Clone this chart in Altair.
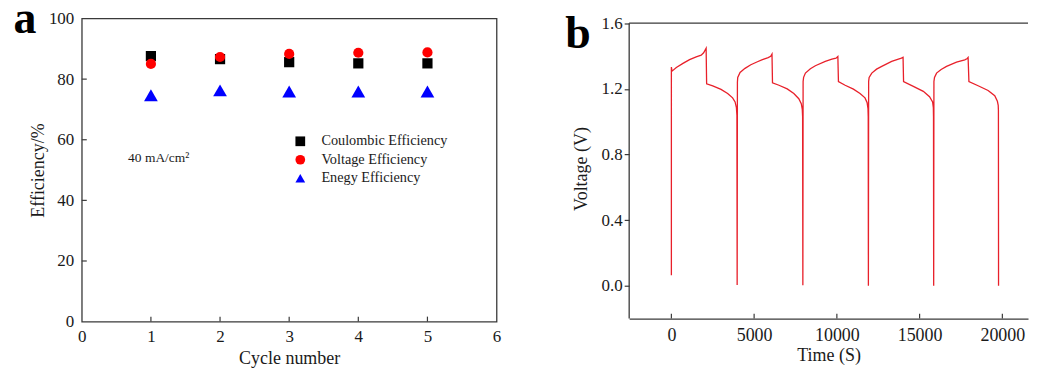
import altair as alt
import pandas as pd

# ---------------- data: panel a ----------------
cycles = [1, 2, 3, 4, 5]
coulombic = [87.6, 86.6, 85.6, 85.2, 85.2]
voltage_eff = [85.0, 87.3, 88.3, 88.7, 88.8]
energy_eff = [74.7, 76.3, 75.9, 75.9, 75.9]
series_names = ["Coulombic Efficiency", "Voltage Efficiency", "Enegy Efficiency"]
x_ticks_a = [0, 1, 2, 3, 4, 5, 6]
y_ticks_a = [0, 20, 40, 60, 80, 100]
annot_text = "40 mA/cm\u00b2"
annot_pos = [0.67, 52.5]

# ---------------- data: panel b ----------------
time_s = [
    0, 0, 40, 300, 700, 1100, 1500, 1800, 1950, 2100, 2130, 2500, 3000, 3400, 3700, 3850, 3930, 3960, 3975,
    3990, 4010, 4150, 4450, 4800, 5200, 5500, 5850, 6000, 6080, 6110, 6500, 7000, 7400, 7700, 7850, 7910, 7930, 7945,
    7960, 7990, 8100, 8400, 8700, 9300, 9700, 9950, 10060, 10095, 10500, 11000, 11400, 11700, 11830, 11880, 11895, 11905,
    11920, 11950, 12110, 12400, 12712, 13313, 13717, 13900, 14000, 14030, 14620, 15223, 15600, 15785, 15830, 15840, 15850,
    15865, 15900, 16025, 16300, 16627, 17229, 17731, 17880, 17930, 17980, 18535, 19138, 19540, 19700, 19750, 19762, 19770,
]
volt_v = [
    0.065, 1.333, 1.308, 1.330, 1.355, 1.378, 1.395, 1.405, 1.42, 1.448, 1.231, 1.218, 1.197, 1.172, 1.145, 1.12, 1.085, 1.04, 0.005,
    1.24, 1.27, 1.300, 1.325, 1.347, 1.365, 1.378, 1.390, 1.398, 1.412, 1.237, 1.222, 1.200, 1.172, 1.140, 1.11, 1.075, 1.03, 0.003,
    1.245, 1.27, 1.296, 1.322, 1.341, 1.367, 1.381, 1.387, 1.397, 1.244, 1.222, 1.198, 1.172, 1.145, 1.115, 1.08, 1.03, 0.0,
    1.245, 1.27, 1.296, 1.320, 1.337, 1.367, 1.381, 1.387, 1.392, 1.244, 1.215, 1.185, 1.152, 1.12, 1.085, 1.03, 0.0,
    1.245, 1.27, 1.296, 1.318, 1.337, 1.363, 1.377, 1.385, 1.391, 1.245, 1.219, 1.19, 1.158, 1.124, 1.10, 1.07, 0.0,
]
x_ticks_b = [0, 5000, 10000, 15000, 20000]
y_ticks_b = [0.0, 0.4, 0.8, 1.2, 1.6]

# ---------------- style ----------------
FONT = "Liberation Serif"
INK = "#1a1a1a"
FRAME = "#3a3a3a"
W_A, H_A = 416, 304
W_B, H_B = 400, 301

# ---------------- panel a ----------------
rows = []
for name, vals in zip(series_names, [coulombic, voltage_eff, energy_eff]):
    for c, v in zip(cycles, vals):
        rows.append({"cycle": c, "eff": v, "series": name})
df_a = pd.DataFrame(rows)

sx_a = alt.Scale(domain=[0, 6], nice=False, zero=False)
sy_a = alt.Scale(domain=[0, 100], nice=False)
ax_xa = alt.Axis(values=x_ticks_a, ticks=False, domain=False, grid=False, labelFont=FONT,
                 labelFontSize=17, labelColor=INK, labelPadding=7, labelFlush=False,
                 title="Cycle number", titleFont=FONT, titleFontSize=18, titleFontWeight="normal",
                 titleColor=INK, titlePadding=5)
ax_ya = alt.Axis(values=y_ticks_a, ticks=False, domain=False, grid=False, labelFont=FONT,
                 labelFontSize=17, labelColor=INK, labelPadding=8, labelFlush=False,
                 title="Efficiency/%", titleFont=FONT, titleFontSize=18, titleFontWeight="normal",
                 titleColor=INK, titlePadding=1)
X_A = alt.X("cycle:Q", scale=sx_a, axis=ax_xa)
Y_A = alt.Y("eff:Q", scale=sy_a, axis=ax_ya)

leg = dict(title=None, orient="none", legendX=212, legendY=116, padding=0, symbolSize=95,
           labelFont=FONT, labelFontSize=14.3, labelColor=INK, labelOffset=14, rowPadding=3.5,
           symbolStrokeWidth=0)

points = alt.Chart(df_a).mark_point(filled=True, opacity=1, strokeWidth=0).encode(
    x=X_A, y=Y_A,
    color=alt.Color("series:N", scale=alt.Scale(domain=series_names, range=["#000000", "#ff0000", "#0000ff"]),
                    legend=alt.Legend(**leg)),
    shape=alt.Shape("series:N", scale=alt.Scale(domain=series_names, range=["square", "circle", "triangle-up"]),
                    legend=alt.Legend(**leg)),
    size=alt.condition(alt.datum.series == "Enegy Efficiency", alt.value(190), alt.value(105)),
)

ticks_xa = alt.Chart(pd.DataFrame({"cycle": x_ticks_a[1:-1]})).mark_rule(color=FRAME, strokeWidth=1.2).encode(
    x=X_A, y=alt.value(H_A), y2=alt.value(H_A - 5))
ticks_ya = alt.Chart(pd.DataFrame({"eff": y_ticks_a[1:-1]})).mark_rule(color=FRAME, strokeWidth=1.2).encode(
    y=Y_A, x=alt.value(0), x2=alt.value(5))

annot = alt.Chart(pd.DataFrame({"cycle": [annot_pos[0]], "eff": [annot_pos[1]], "t": [annot_text]})).mark_text(
    font=FONT, fontSize=13.5, color=INK, align="left", baseline="alphabetic").encode(x=X_A, y=Y_A, text="t:N")

letter_a = alt.Chart(pd.DataFrame({"t": ["a"]})).mark_text(
    font=FONT, fontSize=46, fontWeight="bold", color="#000", align="left", baseline="alphabetic").encode(
    x=alt.value(-68.5), y=alt.value(15), text="t:N")

panel_a = alt.layer(ticks_xa, ticks_ya, points, annot, letter_a).properties(
    width=W_A, height=H_A,
    view=alt.ViewBackground(stroke=FRAME, strokeWidth=1.3, fill="white"))

# ---------------- panel b ----------------
df_b = pd.DataFrame({"time": time_s, "volt": volt_v, "order": list(range(len(time_s)))})
sx_b = alt.Scale(domain=[-2550, 21550], nice=False, zero=False)
sy_b = alt.Scale(domain=[-0.2, 1.6286], nice=False, zero=False)
ax_xb = alt.Axis(values=x_ticks_b, format="d", ticks=False, domain=True, domainColor=FRAME, domainWidth=1.3,
                 grid=False, labelFont=FONT, labelFontSize=18, labelColor=INK, labelPadding=7.5,
                 labelFlush=False, title="Time (S)", titleFont=FONT, titleFontSize=18,
                 titleFontWeight="normal", titleColor=INK, titlePadding=3)
ax_yb = alt.Axis(values=y_ticks_b, format=".1f", ticks=True, tickSize=5, tickColor=FRAME, tickWidth=1.2,
                 domain=False, grid=False, labelFont=FONT, labelFontSize=17, labelColor=INK, labelPadding=2,
                 labelFlush=False, title="Voltage (V)", titleFont=FONT, titleFontSize=18,
                 titleFontWeight="normal", titleColor=INK, titlePadding=11)
X_B = alt.X("time:Q", scale=sx_b, axis=ax_xb)
Y_B = alt.Y("volt:Q", scale=sy_b, axis=ax_yb)

line = alt.Chart(df_b).mark_line(color="#e8202a", strokeWidth=1.3, interpolate="linear").encode(
    x=X_B, y=Y_B, order="order:Q")

ticks_xb = alt.Chart(pd.DataFrame({"time": x_ticks_b})).mark_rule(color=FRAME, strokeWidth=1.2).encode(
    x=X_B, y=alt.value(H_B), y2=alt.value(H_B - 5))

frame_top = alt.Chart(pd.DataFrame({"volt": [y_ticks_b[-1]]})).mark_rule(color=FRAME, strokeWidth=1.3).encode(
    y=Y_B, x=alt.value(0), x2=alt.value(W_B))
frame_left = alt.Chart(pd.DataFrame({"volt": [y_ticks_b[-1]], "v2": [-0.2]})).mark_rule(
    color=FRAME, strokeWidth=1.3).encode(y=Y_B, y2="v2:Q", x=alt.value(0))

letter_b = alt.Chart(pd.DataFrame({"t": ["b"]})).mark_text(
    font=FONT, fontSize=46, fontWeight="bold", color="#000", align="left", baseline="alphabetic").encode(
    x=alt.value(-64), y=alt.value(29.7), text="t:N")

panel_b = alt.layer(line, ticks_xb, frame_top, frame_left, letter_b).properties(
    width=W_B, height=H_B,
    view=alt.ViewBackground(stroke="transparent", fill="white"))

chart = alt.hconcat(panel_a, panel_b, spacing=133, bounds="flush").properties(
    padding={"left": 4, "top": -13, "right": 0, "bottom": 4},
    background="white",
).configure_view(stroke="transparent")

chart.save("out.html", embed_options={"renderer": "svg", "actions": False})
